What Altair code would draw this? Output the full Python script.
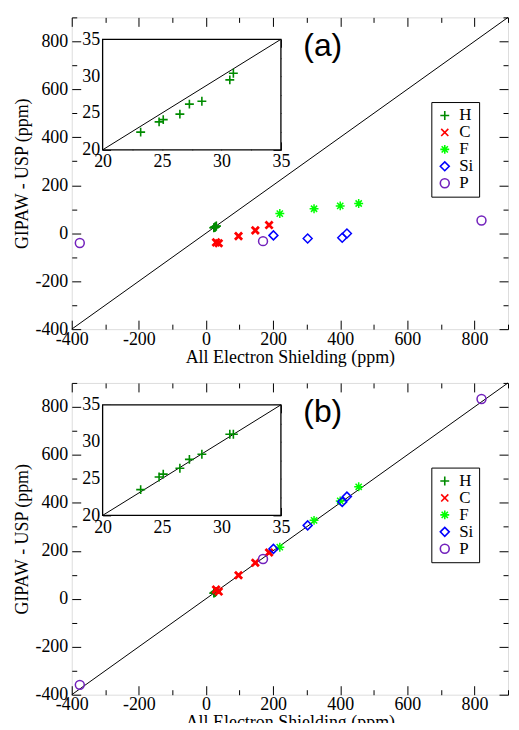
import altair as alt
import pandas as pd

# ---------------- data ----------------
elements = ["H", "C", "F", "Si", "P"]

H_x = [23.2, 24.75, 25.1, 26.5, 27.3, 28.35, 30.7, 31.0]
H_y_a = [22.4, 23.8, 24.1, 24.85, 26.2, 26.6, 29.5, 30.4]
H_y_b = [23.5, 25.2, 25.6, 26.4, 27.6, 28.3, 31.0, 31.0]

C_x = [30, 38, 97, 147, 188]
C_y_a = [-38, -42, -12, 12, 34]
C_y_b = [38, 30, 98, 150, 193]

F_x = [220, 322, 400, 455]
F_y_a = [82, 102, 114, 124]
F_y_b = [215, 327, 408, 467]

Si_x = [201, 303, 406, 420]
Si_y_a = [-9, -22, -19, -1]
Si_y_b = [208, 306, 404, 426]

P_x = [-376, 170, 821]
P_y_a = [-41, -33, 53]
P_y_b = [-359, 166, 833]

main_domain = [-400, 900]
main_major = [-400, -200, 0, 200, 400, 600, 800]
main_minor = [-300, -100, 100, 300, 500, 700, 900]
inset_domain = [20, 35]
inset_major = [20, 25, 30, 35]
inset_minor = [22.5, 27.5, 32.5]

panel_labels = ["(a)", "(b)"]

# ---------------- styling ----------------
colors = ["#008b00", "#ff0000", "#00ff00", "#0000ff", "#7221bc"]
shapes = [
    "M-1,0L1,0M0,-1L0,1",
    "M-0.8,-0.8L0.8,0.8M-0.8,0.8L0.8,-0.8",
    "M-1,0L1,0M0,-1L0,1M-0.7,-0.7L0.7,0.7M-0.7,0.7L0.7,-0.7",
    "diamond",
    "circle",
]

W, H = 438, 313
SERIF = "Liberation Serif"
INSET_X_RANGE = [31, 210]
INSET_Y_RANGE = [133, 22]
IL, IR = INSET_X_RANGE
IB, IT = INSET_Y_RANGE
MAJ, MIN = 9, 5
IMAJ, IMIN = 8, 4
HYPHEN = "toString(datum.value)"


def ax(orient, values, size, offset, labels=False, title=None, lpad=3, tpad=0):
    kw = dict(orient=orient, values=values, tickSize=size, offset=offset,
              domain=False, grid=False, ticks=True, tickColor="black",
              tickWidth=1, labels=labels)
    if labels:
        kw.update(labelFont=SERIF, labelFontSize=18, labelColor="black",
                  labelFlush=False, labelOverlap=False, labelPadding=lpad,
                  labelExpr=HYPHEN)
    if title:
        kw.update(title=title, titleFont=SERIF, titleFontSize=18,
                  titleFontWeight="normal", titleColor="black",
                  titlePadding=tpad)
    else:
        kw["title"] = None
    return alt.Axis(**kw)


def build_panel(ya_H, ya_C, ya_F, ya_Si, ya_P, label):
    rows = []
    for el, xs, ys in [("H", H_x, ya_H), ("C", C_x, ya_C), ("F", F_x, ya_F),
                       ("Si", Si_x, ya_Si), ("P", P_x, ya_P)]:
        for xv, yv in zip(xs, ys):
            rows.append({"el": el, "x": xv, "y": yv})
    pts = pd.DataFrame(rows)
    inset_pts = pd.DataFrame({"x": H_x, "y": ya_H})
    diag = pd.DataFrame({"x": main_domain, "y": main_domain})
    idiag = pd.DataFrame({"x": inset_domain, "y": inset_domain})
    frame = pd.DataFrame({"lo": [inset_domain[0]], "hi": [inset_domain[1]]})

    msx = alt.Scale(domain=main_domain, nice=False, zero=False)
    msy = alt.Scale(domain=main_domain, nice=False, zero=False)

    def mx(axis):
        return alt.X("x:Q", scale=msx, axis=axis)

    def my(axis):
        return alt.Y("y:Q", scale=msy, axis=axis)

    legend = alt.Legend(orient="none", legendX=361, legendY=85, title=None,
                        strokeColor="black", fillColor="white", padding=5,
                        labelFont=SERIF, labelFontSize=17, labelColor="black",
                        symbolSize=80, symbolStrokeWidth=1.6, rowPadding=-1.5,
                        labelOffset=6)

    l1 = alt.Chart(diag).mark_line(color="black", strokeWidth=1).encode(
        x=mx(ax("bottom", main_major, MAJ, -MAJ, labels=True,
                title="All Electron Shielding (ppm)", lpad=1, tpad=0)),
        y=my(ax("left", main_major, MAJ, -MAJ, labels=True,
                title="GIPAW - USP (ppm)", lpad=4, tpad=3)),
    )
    l2 = alt.Chart(pts).mark_point(filled=False, opacity=1, size=80).encode(
        x=mx(ax("bottom", main_minor, MIN, -MIN)),
        y=my(ax("left", main_minor, MIN, -MIN)),
        color=alt.Color("el:N", scale=alt.Scale(domain=elements, range=colors), legend=legend),
        shape=alt.Shape("el:N", scale=alt.Scale(domain=elements, range=shapes), legend=legend),
        strokeWidth=alt.condition("datum.el == 'C'", alt.value(2.8), alt.value(1.5)),
    )
    l3 = alt.Chart(diag).mark_line(opacity=0).encode(
        x=mx(ax("top", main_major, MAJ, -MAJ)),
        y=my(ax("right", main_major, MAJ, -MAJ)),
    )
    l4 = alt.Chart(diag).mark_line(opacity=0).encode(
        x=mx(ax("top", main_minor, MIN, -MIN)),
        y=my(ax("right", main_minor, MIN, -MIN)),
    )
    txt = alt.Chart(pd.DataFrame({"t": [label]})).mark_text(
        font="Liberation Sans", fontSize=32, align="center",
        baseline="alphabetic", color="black"
    ).encode(text="t:N", x=alt.value(252), y=alt.value(39))

    main = alt.layer(l1, l2, l3, l4, txt).resolve_axis(x="independent", y="independent")

    isx = alt.Scale(domain=inset_domain, range=INSET_X_RANGE, nice=False, zero=False)
    isy = alt.Scale(domain=inset_domain, range=INSET_Y_RANGE, nice=False, zero=False)

    def ix(axis, field="x"):
        return alt.X(f"{field}:Q", scale=isx, axis=axis)

    def iy(axis, field="y"):
        return alt.Y(f"{field}:Q", scale=isy, axis=axis)

    i1 = alt.Chart(frame).mark_rect(fill="white", stroke="black", strokeWidth=1.3).encode(
        x=ix(ax("bottom", inset_major, IMAJ, (IB - IMAJ) - H, labels=True, lpad=3), "lo"),
        x2="hi:Q",
        y=iy(ax("left", inset_major, IMAJ, -(IL + IMAJ), labels=True, lpad=3), "lo"),
        y2="hi:Q",
    )
    i2 = alt.Chart(idiag).mark_line(color="black", strokeWidth=1).encode(
        x=ix(ax("bottom", inset_minor, IMIN, (IB - IMIN) - H)),
        y=iy(ax("left", inset_minor, IMIN, -(IL + IMIN))),
    )
    i3 = alt.Chart(inset_pts).mark_point(
        shape=shapes[0], color=colors[0], filled=False, opacity=1, size=80, strokeWidth=1.6
    ).encode(
        x=ix(ax("top", inset_major, IMAJ, -(IT + IMAJ))),
        y=iy(ax("right", inset_major, IMAJ, (IR - IMAJ) - W)),
    )
    i4 = alt.Chart(idiag).mark_line(opacity=0).encode(
        x=ix(ax("top", inset_minor, IMIN, -(IT + IMIN))),
        y=iy(ax("right", inset_minor, IMIN, (IR - IMIN) - W)),
    )
    inset = alt.layer(i1, i2, i3, i4).resolve_axis(x="independent", y="independent")

    return alt.layer(main, inset).resolve_scale(
        x="independent", y="independent"
    ).resolve_axis(x="independent", y="independent").properties(width=W, height=H)


pa = build_panel(H_y_a, C_y_a, F_y_a, Si_y_a, P_y_a, panel_labels[0])
pb = build_panel(H_y_b, C_y_b, F_y_b, Si_y_b, P_y_b, panel_labels[1])

chart = alt.vconcat(pa, pb, spacing=13).resolve_scale(
    color="independent", shape="independent"
).resolve_legend(color="independent", shape="independent").properties(
    padding={"left": 5, "top": 5, "right": 0, "bottom": -11}
).configure_view(
    stroke="black", strokeWidth=1.3
).configure_axis(
    labelFont=SERIF, titleFont=SERIF
).configure_legend(
    labelFont=SERIF
).configure(font=SERIF, background="white")

chart.save("out.html", embed_options={"renderer": "svg", "actions": False})
